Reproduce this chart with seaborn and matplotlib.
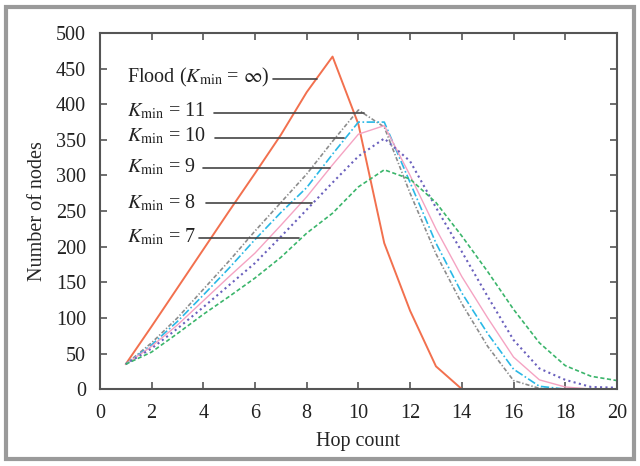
import numpy as np
import pandas as pd
import seaborn as sns
import matplotlib.pyplot as plt
from matplotlib.patches import Rectangle

# -------------------------------
# Data
# -------------------------------
hops = list(range(1, 21))
flood_hops = list(range(1, 15))

flood = [35, 88, 142, 196, 250, 303, 357, 417, 467, 372, 205, 110, 32, 0]
k11 = [35, 65, 100, 140, 180, 222, 262, 302, 348, 392, 368, 275, 190, 120, 60, 12, 1, 0, 0, 0]
k10 = [35, 62, 95, 132, 170, 210, 248, 283, 330, 375, 375, 290, 205, 135, 78, 28, 4, 0, 0, 0]
k9 = [35, 60, 90, 124, 158, 191, 230, 270, 315, 358, 370, 300, 225, 158, 100, 45, 13, 3, 0, 0]
k8 = [35, 57, 85, 115, 146, 177, 214, 252, 290, 327, 352, 320, 255, 193, 130, 69, 29, 13, 3, 2]
k7 = [35, 52, 78, 105, 130, 156, 185, 219, 247, 284, 308, 295, 262, 215, 165, 112, 65, 33, 18, 12]

labels = [r'Flood ($K_{\mathrm{min}}$ = $\infty$)',
          r'$K_{\mathrm{min}}$ = 11', r'$K_{\mathrm{min}}$ = 10',
          r'$K_{\mathrm{min}}$ = 9', r'$K_{\mathrm{min}}$ = 8', r'$K_{\mathrm{min}}$ = 7']

# -------------------------------
# Style
# -------------------------------
sns.set_style('ticks')
plt.rcParams['font.family'] = ['Liberation Serif', 'DejaVu Serif']
plt.rcParams['mathtext.fontset'] = 'stix'
plt.rcParams['font.size'] = 14.5

fig = plt.figure(figsize=(6.4, 4.66), dpi=100)
ax = fig.add_axes([0.156, 0.165, 0.808, 0.764])

# outer grey frame
fig.patches.append(Rectangle((0.009, 0.014), 0.982, 0.972, transform=fig.transFigure,
                             fill=False, edgecolor='#9a9a9a', linewidth=3))

series = [
    (flood_hops, flood, '#f2704e', '-', 1.4),
    (hops, k11, '#8c8c8c', (0, (2.5, 1.2, 0.8, 1.2)), 1.2),
    (hops, k10, '#2ab8e6', (0, (5, 1.5, 1, 1.5)), 1.2),
    (hops, k9, '#f5a3c2', '-', 1.0),
    (hops, k8, '#6a60bd', (0, (1, 1.6)), 1.5),
    (hops, k7, '#3bb56b', (0, (2.5, 1.5)), 1.2),
]
for x, y, c, ls, lw in series:
    sns.lineplot(x=x, y=y, color=c, linestyle=ls, linewidth=lw, ax=ax)

# labels with leader lines
label_pos = [
    (437, 6.7, 8.4, 435),
    (390, 4.4, 10.2, 388),
    (355, 4.45, 9.45, 353),
    (312, 4.0, 8.9, 311),
    (262, 4.1, 8.2, 261),
    (213, 3.85, 7.7, 212),
]
for txt, (ty, x0, x1, ly) in zip(labels, label_pos):
    ax.text(1.05, ty, txt, va='center', ha='left', color='#222222')
    ax.plot([x0, x1], [ly, ly], color='#444444', linewidth=1.2)

ax.set_xlim(0, 20)
ax.set_ylim(0, 500)
ax.set_xticks(range(0, 21, 2))
ax.set_yticks(range(0, 501, 50))
ax.set_xlabel('Hop count', labelpad=6)
ax.set_ylabel('Number of nodes', labelpad=6)
ax.tick_params(direction='in', length=5, width=1.2, color='#555555',
               top=True, right=True, labelcolor='#222222')
ax.tick_params(axis='x', pad=11)
ax.tick_params(axis='y', pad=10)
for s in ax.spines.values():
    s.set_color('#555555')
    s.set_linewidth(1.5)

fig.savefig('out.png', dpi=100)
